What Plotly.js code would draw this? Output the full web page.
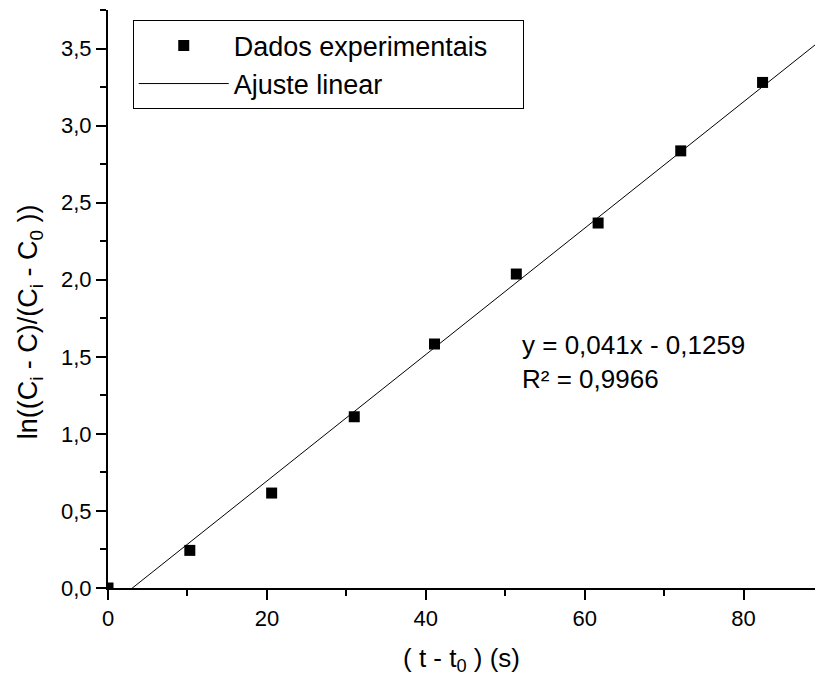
<!DOCTYPE html>
<html>
<head>
<meta charset="utf-8">
<script src="https://cdn.plot.ly/plotly-3.0.1.min.js"></script>
<style>html,body{margin:0;padding:0;background:#fff;}#chart{width:815px;height:683px;}</style>
</head>
<body>
<div id="chart"></div>
<script>
// Experimental data
const timeS = [0, 10.3, 20.6, 31.0, 41.1, 51.4, 61.7, 72.1, 82.4];
const lnRatio = [0.0, 0.244, 0.616, 1.111, 1.583, 2.037, 2.368, 2.836, 3.28];
// Linear fit parameters (from the chart's equation)
const fitSlope = [0.041];
const fitIntercept = [-0.1259];
const fitRangeX = [0, 90];
const seriesNames = ["Dados experimentais", "Ajuste linear"];
const eqLabel = ["y = 0,041x - 0,1259", "R² = 0,9966"];
const xTicks = [0, 20, 40, 60, 80];
const yTicks = [0.0, 0.5, 1.0, 1.5, 2.0, 2.5, 3.0, 3.5];
const yTickText = ["0,0", "0,5", "1,0", "1,5", "2,0", "2,5", "3,0", "3,5"];

const fitY = fitRangeX.map(x => fitSlope[0] * x + fitIntercept[0]);
const FONT = "Liberation Sans, Arial, sans-serif";
const PAD = "\u00a0\u00a0\u00a0\u00a0";

const traces = [
  {
    x: timeS, y: lnRatio, type: "scatter", mode: "markers",
    name: seriesNames[0] + PAD,
    marker: {symbol: "square", size: 11, color: "#000"}
  },
  {
    x: fitRangeX, y: fitY, type: "scatter", mode: "lines",
    name: seriesNames[1],
    line: {color: "#000", width: 1}
  }
];

const layout = {
  width: 815, height: 683,
  margin: {l: 108, r: 0, t: 10, b: 95},
  paper_bgcolor: "#fff", plot_bgcolor: "#fff",
  font: {family: FONT, color: "#000", size: 22},
  showlegend: true,
  legend: {
    x: 0.035, y: 0.982, xanchor: "left", yanchor: "top",
    bgcolor: "#fff", bordercolor: "#000", borderwidth: 1,
    font: {family: FONT, size: 27, color: "#000"},
    itemwidth: 90, tracegroupgap: 0
  },
  xaxis: {
    range: [0, 89.0], showgrid: false, zeroline: false,
    showline: true, linecolor: "#000", linewidth: 2,
    ticks: "outside", ticklen: 10, tickwidth: 2, tickcolor: "#000",
    tickvals: xTicks, ticktext: xTicks.map(String),
    tickfont: {family: FONT, size: 22},
    minor: {ticks: "outside", ticklen: 6, tickwidth: 2, tickcolor: "#000", dtick: 10, showgrid: false},
    title: {text: "( t - t<sub>0</sub> ) (s)", font: {family: FONT, size: 26}, standoff: 18}
  },
  yaxis: {
    range: [0, 3.75], showgrid: false, zeroline: false,
    showline: true, linecolor: "#000", linewidth: 2,
    ticks: "outside", ticklen: 10, tickwidth: 2, tickcolor: "#000",
    tickvals: yTicks, ticktext: yTickText,
    tickfont: {family: FONT, size: 22},
    minor: {ticks: "outside", ticklen: 6, tickwidth: 2, tickcolor: "#000", dtick: 0.25, showgrid: false}
  },
  annotations: [
    {
      x: 51.9, y: 1.467, xref: "x", yref: "y",
      text: eqLabel.join("<br>"), showarrow: false,
      xanchor: "left", yanchor: "middle", align: "left",
      font: {family: FONT, size: 26, color: "#000"}
    },
    {
      x: -0.11, y: 0.46, xref: "paper", yref: "paper",
      text: "ln((C<sub>i</sub> - C)/(C<sub>i</sub> - C<sub>0</sub> ))",
      textangle: -90, showarrow: false,
      xanchor: "center", yanchor: "middle",
      font: {family: FONT, size: 27, color: "#000"}
    }
  ]
};
Plotly.newPlot("chart", traces, layout, {displayModeBar: false, staticPlot: true});
</script>
</body>
</html>
